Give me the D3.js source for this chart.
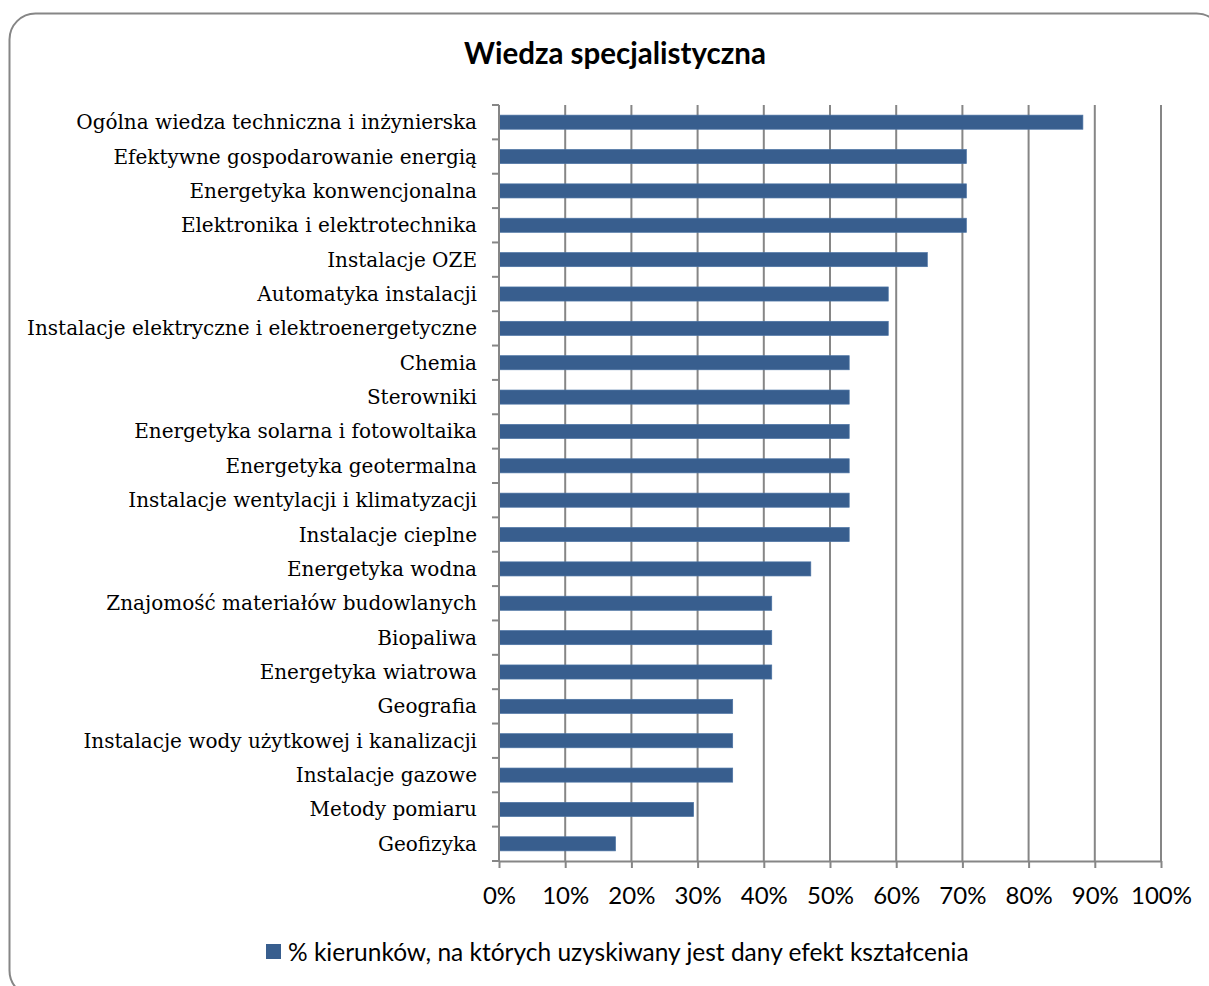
<!DOCTYPE html>
<html>
<head>
<meta charset="utf-8">
<script src="https://cdn.jsdelivr.net/npm/d3@7"></script>
<style>
  body { margin: 0; background: #fff; }
  svg { display: block; }
</style>
</head>
<body>
<svg id="chart" width="1209" height="986"></svg>
<script>
const categories = [
  "Ogólna wiedza techniczna i inżynierska",
  "Efektywne gospodarowanie energią",
  "Energetyka konwencjonalna",
  "Elektronika i elektrotechnika",
  "Instalacje OZE",
  "Automatyka instalacji",
  "Instalacje elektryczne i elektroenergetyczne",
  "Chemia",
  "Sterowniki",
  "Energetyka solarna i fotowoltaika",
  "Energetyka geotermalna",
  "Instalacje wentylacji i klimatyzacji",
  "Instalacje cieplne",
  "Energetyka wodna",
  "Znajomość materiałów budowlanych",
  "Biopaliwa",
  "Energetyka wiatrowa",
  "Geografia",
  "Instalacje wody użytkowej i kanalizacji",
  "Instalacje gazowe",
  "Metody pomiaru",
  "Geofizyka"
];
const values = [88.2, 70.6, 70.6, 70.6, 64.7, 58.8, 58.8, 52.9, 52.9, 52.9, 52.9, 52.9, 52.9,
  47.1, 41.2, 41.2, 41.2, 35.3, 35.3, 35.3, 29.4, 17.6];
const xTicks = [0, 10, 20, 30, 40, 50, 60, 70, 80, 90, 100];
const title = "Wiedza specjalistyczna";
const seriesName = "% kierunków, na których uzyskiwany jest dany efekt kształcenia";

const svg = d3.select("#chart");
const barColor = "#385E8E";
const sans = "Lato, 'Open Sans', sans-serif";

// frame (runs off the right and bottom edge like the original)
svg.append("rect")
  .attr("x", 9.5).attr("y", 13.5)
  .attr("width", 1213).attr("height", 983)
  .attr("rx", 26).attr("ry", 26)
  .attr("fill", "#fff")
  .attr("stroke", "#868686")
  .attr("stroke-width", 2);

svg.append("text")
  .attr("x", 615).attr("y", 64)
  .attr("text-anchor", "middle")
  .attr("font-family", sans)
  .attr("font-weight", "bold")
  .attr("font-size", 29.5)
  .text(title);

const plotLeft = 499, plotRight = 1161, plotTop = 105, plotBottom = 861;

const x = d3.scaleLinear().domain([0, 100]).range([plotLeft, plotRight]);
const y = d3.scaleBand().domain(categories).range([plotTop, plotBottom]).paddingInner(0.59).paddingOuter(0.295);

// gridlines
svg.append("g")
  .selectAll("line")
  .data(xTicks.slice(1))
  .join("line")
  .attr("x1", d => x(d)).attr("x2", d => x(d))
  .attr("y1", plotTop).attr("y2", plotBottom)
  .attr("stroke", "#868686")
  .attr("stroke-width", 2);

// bars
svg.append("g")
  .selectAll("rect")
  .data(values)
  .join("rect")
  .attr("x", x(0))
  .attr("y", (d, i) => y(categories[i]))
  .attr("width", d => x(d) - x(0))
  .attr("height", y.bandwidth())
  .attr("fill", barColor)
  .attr("stroke", "#4A72A3")
  .attr("stroke-width", 0.7);

// x axis
const xAxis = svg.append("g")
  .attr("transform", `translate(0,${plotBottom})`)
  .call(d3.axisBottom(x).tickValues(xTicks).tickFormat(d => d + "%").tickSize(7).tickPadding(19).tickSizeOuter(0));
xAxis.select(".domain").attr("stroke", "#868686").attr("stroke-width", 2);
xAxis.selectAll(".tick line").attr("stroke", "#868686").attr("stroke-width", 2);
xAxis.selectAll("text")
  .attr("font-family", sans)
  .attr("font-size", 24)
  .attr("fill", "#000");

// y axis
const band = (plotBottom - plotTop) / categories.length;
const yAxis = svg.append("g").attr("transform", `translate(${plotLeft},0)`);
yAxis.append("line")
  .attr("x1", 0).attr("x2", 0).attr("y1", plotTop).attr("y2", plotBottom)
  .attr("stroke", "#868686").attr("stroke-width", 2);
yAxis.selectAll(".tk")
  .data(d3.range(categories.length + 1))
  .join("line")
  .attr("class", "tk")
  .attr("x1", -7).attr("x2", 0)
  .attr("y1", d => plotTop + d * band).attr("y2", d => plotTop + d * band)
  .attr("stroke", "#868686").attr("stroke-width", 2);
yAxis.selectAll(".lbl")
  .data(categories)
  .join("text")
  .attr("class", "lbl")
  .attr("x", -22)
  .attr("y", d => y(d) + y.bandwidth() / 2)
  .attr("dy", "0.35em")
  .attr("text-anchor", "end")
  .attr("font-family", "'DejaVu Serif', serif")
  .attr("font-size", 20)
  .attr("fill", "#000")
  .text(d => d);

// legend
const legend = svg.append("g").attr("transform", "translate(266,944)");
legend.append("rect").attr("width", 15).attr("height", 15).attr("fill", barColor);
legend.append("text")
  .attr("x", 22).attr("y", 8).attr("dy", "0.35em")
  .attr("font-family", sans)
  .attr("font-size", 24.5)
  .attr("fill", "#000")
  .text(seriesName);
</script>
</body>
</html>
